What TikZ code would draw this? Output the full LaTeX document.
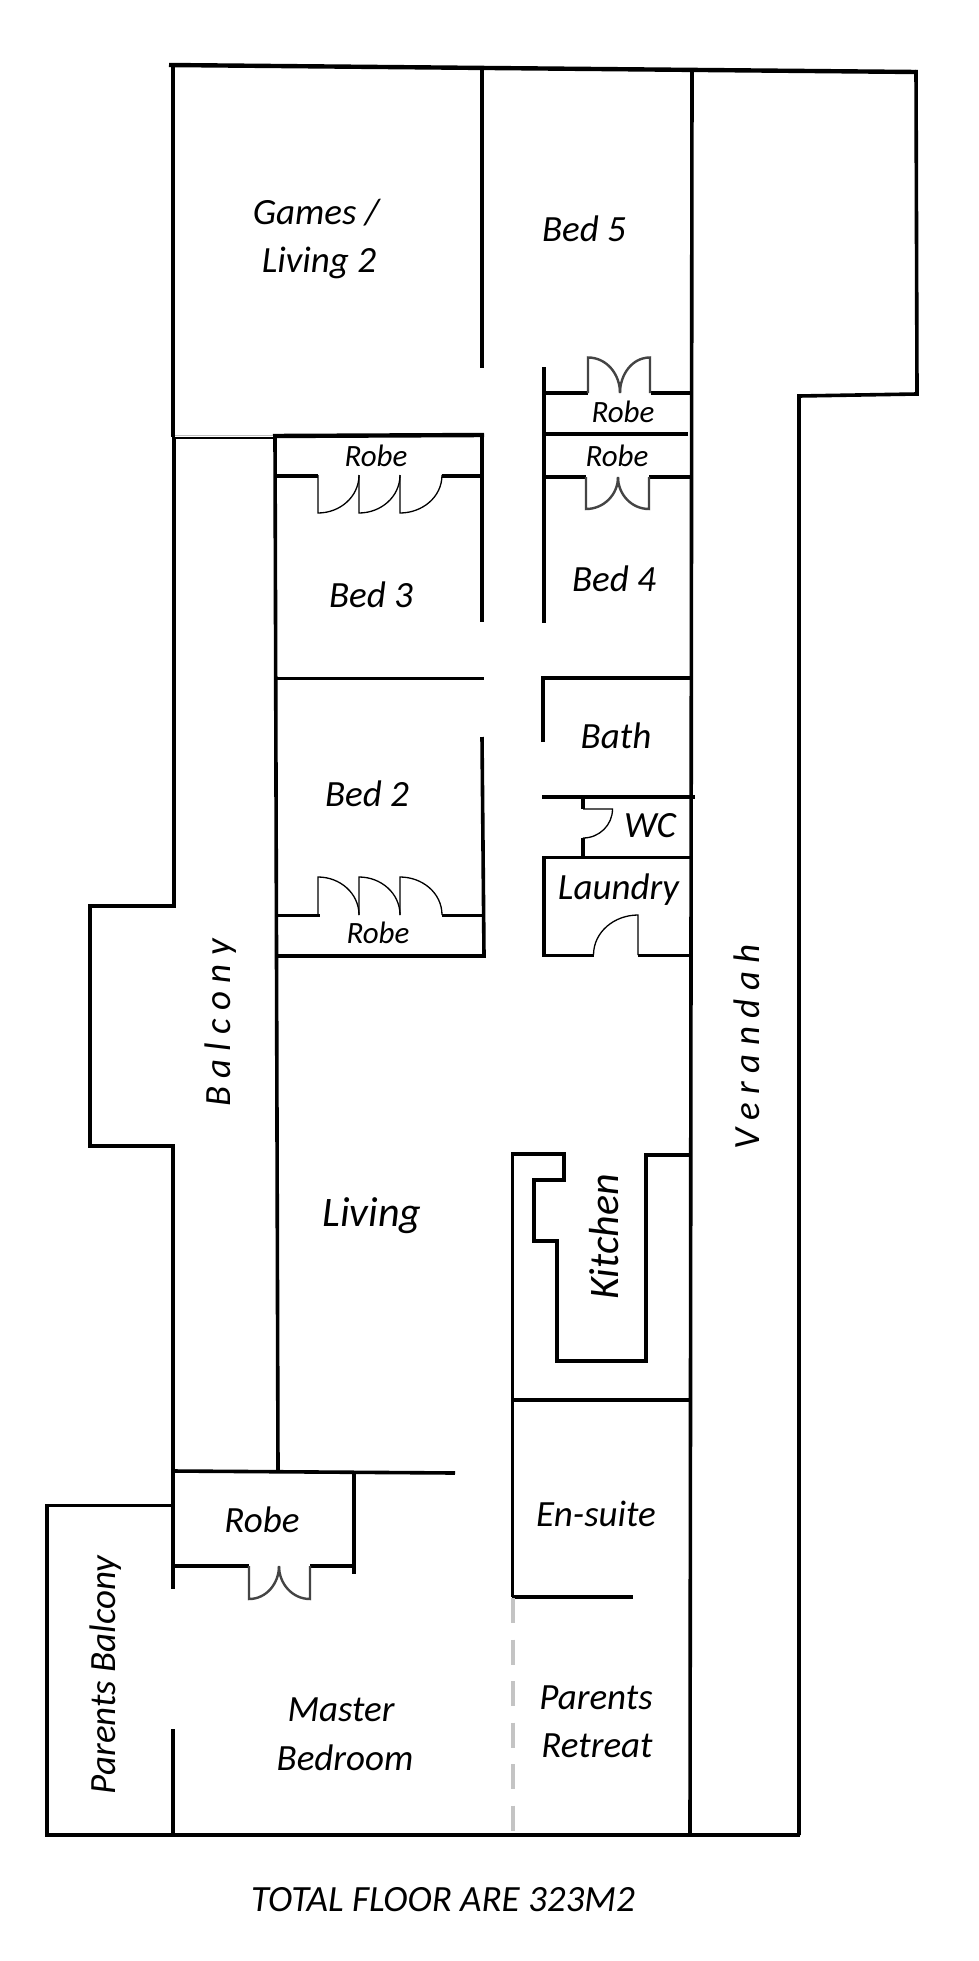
\documentclass[tikz,border=0pt]{standalone}
\usepackage{fontspec}
\setmainfont{Carlito}
\definecolor{doorgrey}{HTML}{444444}
\definecolor{dashgrey}{HTML}{C4C4C4}
\tikzset{
  wall/.style={draw=black,line width=3.6pt,line join=miter},
  wallthin/.style={draw=black,line width=3pt},
  swing/.style={draw=black,line width=1.3pt},
  swingdark/.style={draw=doorgrey,line width=2.4pt},
  room/.style={inner sep=0pt,font=\fontsize{37}{37}\selectfont\itshape},
  robe/.style={inner sep=0pt,font=\fontsize{31}{31}\selectfont\itshape},
  small/.style={inner sep=0pt,font=\fontsize{35}{35}\selectfont\itshape}
}
\begin{document}
\begin{tikzpicture}[x=1pt,y=-1pt]
\useasboundingbox (0,0) rectangle (978,1961);
\fill[white] (0,0) rectangle (978,1961);
% outer walls
\draw[wall,line width=4.4pt] (169,65) -- (916,72);
\draw[wall] (916,70) -- (917,394) -- (799,396) -- (799,1835);
\draw[wall] (173,65) -- (173,437);
\draw[wall] (174,437) -- (174,906) -- (90,906) -- (90,1146) -- (173,1146) -- (173,1589);
\draw[wall] (173,1729) -- (173,1835);
\draw[wall] (173,1505.5) -- (47,1505.5) -- (47,1835);
\draw[wall] (45,1835) -- (800,1835);
\draw[wall] (692,69) -- (690,1835);
% top rooms
\draw[wall] (482,67) -- (482,368);
\draw[black,line width=2pt] (173,437.5) -- (275,437.5);
\draw[draw=lightgray,line width=1pt] (175,435.5) -- (275,435.5);
% bed 3
\draw[wall,line width=4.4pt] (273,436) -- (484,435);
\draw[wall] (275,436) -- (278,1471);
\draw[wall] (482,435) -- (482,622);
\draw[wall] (275,476) -- (318,476);
\draw[wall] (442,476) -- (482,476);
\draw[swing] (318,475) -- (318,513) to[out=0,in=-90] (359,475);
\draw[swing] (359,475) -- (359,513) to[out=0,in=-90] (400,475);
\draw[swing] (400,475) -- (400,513) to[out=0,in=-90] (442,475);
\draw[wallthin] (275,678) -- (484,678);
% bed 2
\draw[wall] (482,737) -- (484,956);
\draw[wall,line width=4.4pt] (275,956) -- (486,956);
\draw[wall] (275,915.5) -- (320,915.5);
\draw[wall] (442,915.5) -- (484,915.5);
\draw[swing] (318,915) -- (318,877) to[out=0,in=90] (359,915);
\draw[swing] (359,915) -- (359,877) to[out=0,in=90] (400,915);
\draw[swing] (400,915) -- (400,877) to[out=0,in=90] (442,915);
% bed 4 side
\draw[wall] (544,367) -- (544,623);
\draw[wall] (544,393) -- (588,393);
\draw[wall] (651,393) -- (691,393);
\draw[swingdark] (588,393) -- (588,357.5) to[out=0,in=90] (620,393);
\draw[swingdark] (650,393) -- (650,357.5) to[out=180,in=90] (620,393);
\draw[wall] (544,434) -- (688,434);
\draw[wall] (544,477) -- (586,477);
\draw[wall] (649,477) -- (691,477);
\draw[swingdark] (586,477) -- (586,509) to[out=0,in=-90] (618,477);
\draw[swingdark] (649,477) -- (649,509) to[out=180,in=-90] (618,477);
% bath, wc, laundry
\draw[wall] (543,742) -- (543,678) -- (690,678);
\draw[wall] (542,797) -- (695,797);
\draw[wall] (583,797) -- (583,809);
\draw[wall] (583,838) -- (583,857);
\draw[swing] (583,809) -- (612.5,809) to[out=-90,in=0] (583,838);
\draw[wall] (690,857.5) -- (544,857.5) -- (544,955.5) -- (593.5,955.5);
\draw[wall] (638,955.5) -- (690,955.5);
\draw[swing] (638,955) -- (638,915) to[out=180,in=90] (593.5,955);
% kitchen
\draw[wall] (512.5,1597) -- (512.5,1154) -- (564,1154) -- (564,1180) -- (534,1180) -- (534,1241) -- (557,1241) -- (557,1361) -- (646,1361) -- (646,1155) -- (690,1155);
\draw[wall] (512,1400) -- (690,1400);
\draw[wall] (512,1597) -- (633,1597);
\draw[draw=dashgrey,line width=3.6pt,dash pattern=on 25pt off 16.5pt] (513,1598) -- (513,1835);
% master robe
\draw[wall] (173,1471) -- (455,1473);
\draw[wall] (354,1473) -- (354,1574);
\draw[wall] (173,1566) -- (249,1566);
\draw[wall] (310,1566) -- (354,1566);
\draw[swingdark] (249,1566) -- (249,1599) to[out=0,in=-90] (279,1566);
\draw[swingdark] (310,1566) -- (310,1599) to[out=180,in=-90] (279,1566);
% labels
\node[room] (games) at (316,213) {Games /};
\node[room] (living2) at (319,263) {Living 2};
\node[room] (bedfive) at (584,229) {Bed 5};
\node[robe] (robea) at (623,412) {Robe};
\node[robe] (robeb) at (376,455.5) {Robe};
\node[robe] (robec) at (617,456) {Robe};
\node[room] (bedthree) at (371,595) {Bed 3};
\node[room] (bedfour) at (614,579) {Bed 4};
\node[room] (bath) at (616,736) {Bath};
\node[room] (bedtwo) at (367,794) {Bed 2};
\node[room] (wc) at (650,826) {WC};
\node[room] (laundry) at (618.5,890) {Laundry};
\node[robe] (roBed) at (378,933) {Robe};
\node[room,rotate=90] (balcony) at (221,1023) {B a l c o n y};
\node[room,rotate=90] (verandah) at (747,1047) {V e r a n d a h};
\node[room,font=\fontsize{42}{42}\selectfont\itshape] (living) at (372,1216) {Living};
\node[room,font=\fontsize{42}{42}\selectfont\itshape,rotate=90] (kitchen) at (604.5,1237) {Kitchen};
\node[room] (robee) at (262,1519.5) {Robe};
\node[room] (ensuite) at (596,1514) {En-suite};
\node[room] (parents) at (596,1698) {Parents};
\node[room] (retreat) at (597,1746) {Retreat};
\node[room] (master) at (341,1709.5) {Master};
\node[room] (bedroom) at (345,1758) {Bedroom};
\node[room,rotate=90] (pbalcony) at (106,1675) {Parents Balcony};
\node[room] (total) at (443,1900) {TOTAL FLOOR ARE 323M2};
\end{tikzpicture}
\end{document}
